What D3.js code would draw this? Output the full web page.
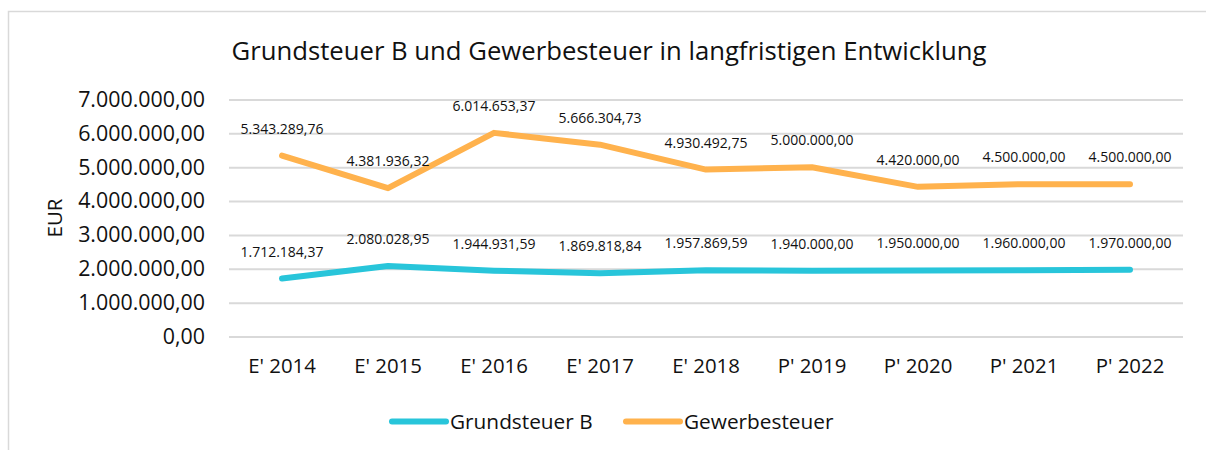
<!DOCTYPE html>
<html>
<head>
<meta charset="utf-8">
<script src="https://cdn.jsdelivr.net/npm/d3@7"></script>
<style>
  body { margin: 0; background: #fff; }
  svg { display: block; font-family: "Open Sans", sans-serif; }
</style>
</head>
<body>
<div id="chart"></div>
<script>
// data
var years = ["E' 2014", "E' 2015", "E' 2016", "E' 2017", "E' 2018", "P' 2019", "P' 2020", "P' 2021", "P' 2022"];
var grundsteuer = [1712184.37, 2080028.95, 1944931.59, 1869818.84, 1957869.59, 1940000, 1950000, 1960000, 1970000];
var gewerbesteuer = [5343289.76, 4381936.32, 6014653.37, 5666304.73, 4930492.75, 5000000, 4420000, 4500000, 4500000];
var yTicks = [0, 1000000, 2000000, 3000000, 4000000, 5000000, 6000000, 7000000];

var svgWidth = 1206;
var svgHeight = 450;
var margin = { top: 99.5, right: 23, bottom: 113.5, left: 229 };
var chartWidth = svgWidth - margin.left - margin.right;
var chartHeight = svgHeight - margin.top - margin.bottom;

var deFormat = d3.formatLocale({ decimal: ",", thousands: ".", grouping: [3], currency: ["", " €"] }).format(",.2f");

var svg = d3.select("#chart")
  .append("svg")
  .attr("width", svgWidth)
  .attr("height", svgHeight);

// outer frame
svg.append("rect")
  .attr("x", 8.5)
  .attr("y", 11.5)
  .attr("width", svgWidth + 10)
  .attr("height", svgHeight + 10)
  .attr("fill", "none")
  .attr("stroke", "#d9d9d9")
  .attr("stroke-width", 1.5);

// title
svg.append("text")
  .attr("x", 609)
  .attr("y", 60)
  .attr("text-anchor", "middle")
  .attr("font-size", "25.7px")
  .attr("fill", "#111")
  .text("Grundsteuer B und Gewerbesteuer in langfristigen Entwicklung");

var chartGroup = svg.append("g")
  .attr("transform", `translate(${margin.left}, ${margin.top})`);

var xScale = d3.scaleBand()
  .domain(years)
  .range([0, chartWidth]);

var yScale = d3.scaleLinear()
  .domain([0, 7000000])
  .range([chartHeight, 0]);

// gridlines
chartGroup.append("g")
  .call(d3.axisLeft(yScale).tickValues(yTicks).tickSize(-chartWidth).tickFormat(""))
  .call(g => g.select(".domain").remove())
  .selectAll("line")
  .attr("stroke", "#d9d9d9")
  .attr("stroke-width", 2);

// y axis labels
var yAxis = chartGroup.append("g")
  .call(d3.axisLeft(yScale).tickValues(yTicks).tickSize(0).tickPadding(24).tickFormat(deFormat));
yAxis.select(".domain").remove();
yAxis.selectAll("text")
  .attr("font-family", "Open Sans")
  .attr("font-size", "21.4px")
  .attr("fill", "#111");

// x axis labels
var xAxis = chartGroup.append("g")
  .attr("transform", `translate(0, ${chartHeight})`)
  .call(d3.axisBottom(xScale).tickSize(0).tickPadding(22));
xAxis.select(".domain").remove();
xAxis.selectAll("text")
  .attr("font-family", "Open Sans")
  .attr("font-size", "20.4px")
  .attr("fill", "#111");

// y title
svg.append("text")
  .attr("transform", "translate(62, 218) rotate(-90)")
  .attr("text-anchor", "middle")
  .attr("font-size", "20.5px")
  .attr("fill", "#111")
  .text("EUR");

var series = [
  { name: "Grundsteuer B", values: grundsteuer, color: "#28c5da" },
  { name: "Gewerbesteuer", values: gewerbesteuer, color: "#ffb24d" }
];

var line = d3.line()
  .x((d, i) => xScale(years[i]) + xScale.bandwidth() / 2)
  .y(d => yScale(d));

series.forEach(function(s) {
  chartGroup.append("path")
    .datum(s.values)
    .attr("d", line)
    .attr("fill", "none")
    .attr("stroke", s.color)
    .attr("stroke-width", 6)
    .attr("stroke-linecap", "round")
    .attr("stroke-linejoin", "round");

  chartGroup.selectAll(null)
    .data(s.values)
    .enter()
    .append("text")
    .attr("x", (d, i) => xScale(years[i]) + xScale.bandwidth() / 2)
    .attr("y", d => yScale(d) - 22)
    .attr("text-anchor", "middle")
    .attr("font-size", "14px")
    .attr("fill", "#111")
    .text(d => deFormat(d));
});

// legend
var legend = svg.append("g");
var legendItems = [
  { name: "Grundsteuer B", color: "#28c5da", x: 392 },
  { name: "Gewerbesteuer", color: "#ffb24d", x: 626 }
];
legendItems.forEach(function(item) {
  legend.append("line")
    .attr("x1", item.x)
    .attr("x2", item.x + 54)
    .attr("y1", 421.5)
    .attr("y2", 421.5)
    .attr("stroke", item.color)
    .attr("stroke-width", 6)
    .attr("stroke-linecap", "round");
  legend.append("text")
    .attr("x", item.x + 58)
    .attr("y", 429)
    .attr("font-size", "20.8px")
    .attr("fill", "#111")
    .text(item.name);
});
</script>
</body>
</html>
